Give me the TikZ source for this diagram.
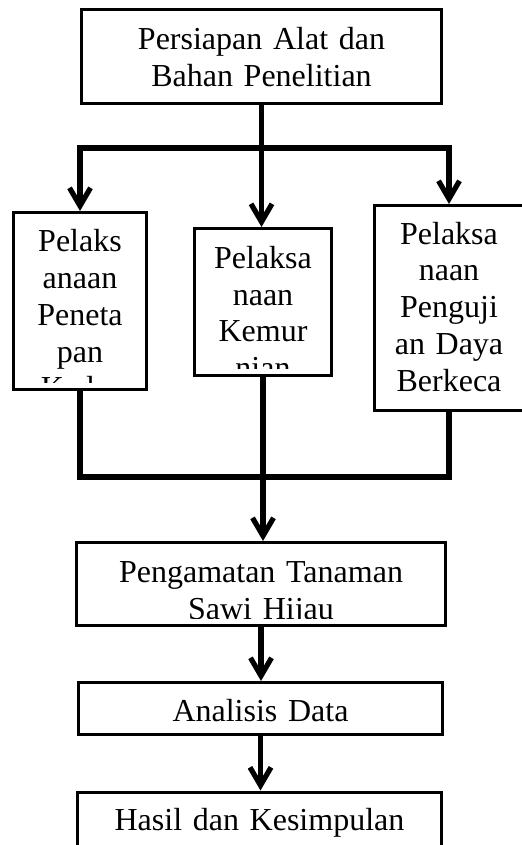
\documentclass[tikz,border=0pt]{standalone}
\usepackage{fontspec}
\setmainfont{Liberation Serif}
\usetikzlibrary{arrows.meta}

\begin{document}
\begin{tikzpicture}[x=0.5pt,y=-0.5pt,
    box/.style={draw=black, line width=1.5pt, inner sep=0pt},
    txt/.style={anchor=base, align=center, inner sep=0pt, text width=170pt, font=\fontsize{16}{18.4}\selectfont},
    link/.style={line width=2.6pt},
    arr/.style={link, -{Straight Barb[length=9pt,width=10.5pt]}}]
        \useasboundingbox (0,0) rectangle (521,845);
        \node[box, minimum width=180pt, minimum height=47pt] (prep) at (261.5,56.5) {};
        \node[txt] (preptxt) at (261.5,50) {Persiapan Alat dan\\Bahan Penelitian};
        \node[box, minimum width=66.5pt, minimum height=88.5pt] (penet) at (80,301) {};
        \begin{scope}
            \clip ([yshift=4.5pt]penet.south west) rectangle (penet.north east);
            \node[txt] (penettxt) at (80,251.7) {Pelaks\\anaan\\Peneta\\pan\\Kadar};
        \end{scope}
        \node[box, minimum width=68.5pt, minimum height=73.5pt] (kemur) at (263,302) {};
        \begin{scope}
            \clip ([yshift=4.5pt]kemur.south west) rectangle (kemur.north east);
            \node[txt] (kemurtxt) at (263,268.3) {Pelaksa\\naan\\Kemur\\nian};
        \end{scope}
        \node[box, minimum width=75pt, minimum height=102.5pt] (uji) at (449,308) {};
        \node[txt] (ujitxt) at (449,244) {Pelaksa\\naan\\Penguji\\an Daya\\Berkeca};
        \node[box, minimum width=184.5pt, minimum height=41.5pt] (amat) at (261,584) {};
        \begin{scope}
            \clip ([yshift=4.5pt]amat.south west) rectangle (amat.north east);
            \node[txt] (amattxt) at (261,582.3) {Pengamatan Tanaman\\Sawi Hijau};
        \end{scope}
        \node[box, minimum width=182pt, minimum height=26pt] (anal) at (260.5,708.5) {};
        \node[txt] (analtxt) at (260.5,721.7) {Analisis Data};
        \node[box, minimum width=182pt, minimum height=43pt] (hasil) at (259.5,835) {};
        \node[txt] (hasiltxt) at (259.5,830.7) {Hasil dan Kesimpulan};
        \coordinate (split) at (261.5,148);
        \coordinate (join) at (261.5,477);
        \draw[arr] (prep.south) -- (prep.south |- kemur.north);
        \draw[arr] (split) -| (penet.north);
        \draw[arr] (split) -| (uji.north);
        \draw[link] (penet.south) |- (join) -| (uji.south);
        \draw[arr] (kemur.south) -- (kemur.south |- amat.north);
        \draw[arr] (amat.south) -- (amat.south |- anal.north);
        \draw[arr] (anal.south) -- (anal.south |- hasil.north);
    \end{tikzpicture}
\end{document}
